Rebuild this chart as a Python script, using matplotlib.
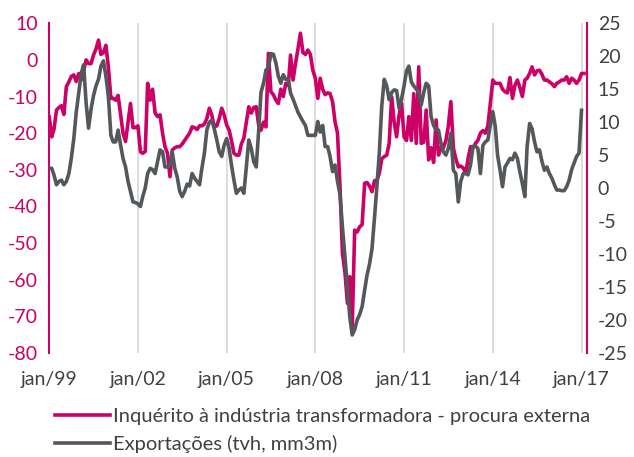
import numpy as np
import pandas as pd
import matplotlib
matplotlib.use('Agg')
import matplotlib.pyplot as plt

plt.rcParams['font.family'] = ['Lato', 'DejaVu Sans']
plt.rcParams['axes.unicode_minus'] = False

# Inquérito à indústria transformadora - procura externa (left axis), jan/99 .. fev/17
inquerito = [
    -15.5, -21, -19, -13.7, -13, -12.5, -14.9, -7.3, -6, -4.5,
    -4.1, -5.9, -3.7, -5.5, -3, 0, -1, -1, 1.3, 3,
    5.4, 1.5, 2, 4, -2, -10.5, -10.5, -11, -9.7, -14.9,
    -20, -22.3, -17, -11.9, -18.5, -18.5, -18, -25.1, -25.5, -25,
    -6.4, -11, -8, -14.5, -15.5, -15, -20, -23.7, -25.5, -31.9,
    -24.6, -24, -23.7, -23.7, -23, -22, -21, -20, -18.3, -18.5,
    -19, -18, -18, -17.5, -16, -13.2, -15, -18.3, -18, -16,
    -13.2, -15, -17.8, -19.2, -22, -25.5, -26, -26, -23, -21.4,
    -17, -12.8, -14.5, -13, -12.8, -18, -19.2, -17, -18.3, 1.8,
    -8.7, -9.5, -11, -11.9, -8, -10, -6.4, -7, 1.3, -5.5,
    -1, 3, 7.3, 2, 1.5, 2.7, 1.5, -2.8, -5, -10.5,
    -5, -8, -9.5, -9, -9.2, -11.4, -17, -20, -34.7, -52.8,
    -58, -66.5, -59.2, -72.9, -46.5, -47, -45.6, -45, -33.7, -33.5,
    -34.5, -36, -33, -32.8, -31, -27, -26.4, -26, -22.8, -10.1,
    -17, -21, -15, -11.9, -21, -22, -15.5, -22, -9.2, -22.8,
    -1.9, -22.8, -22.5, -13.7, -27.3, -24, -28, -16.4, -26, -24,
    -24, -22, -18, -11.4, -24, -27, -29.2, -29, -29.5, -31,
    -27, -23.7, -24, -22.8, -22, -20, -19.3, -20, -18, -12,
    -5.5, -6.4, -6.4, -6.4, -8, -8.7, -9, -4.8, -10.5, -7,
    -5.5, -7.5, -10, -5.5, -5, -3.7, -1.9, -4.1, -3, -2.8,
    -4, -5.5, -5.5, -6, -6.5, -7.3, -6.4, -6, -5.5, -5.5,
    -4.6, -6.4, -5, -5.5, -6.4, -5.5, -3.7, -3.7,
]

# Exportações (tvh, mm3m) (right axis), jan/99 .. jan/17
exportacoes = [
    3.0, 3.0, 2.0, 0.5, 1.0, 1.2, 0.5, 1.0, 2.2, 4.5,
    7.5, 11.5, 14.5, 17.4, 18.7, 12.9, 9.1, 12, 14, 15.5,
    16.5, 18.5, 19.3, 17, 13.9, 8, 7.0, 7.0, 8.8, 6.5,
    4.5, 3.2, 1, -0.5, -2.1, -2.2, -2.4, -2.8, -1.3, 0,
    2.2, 3.0, 2.8, 2.2, 4, 5.8, 5.5, 3.2, 3.2, 3.5,
    5.5, 3.0, 1.7, -0.5, -1.3, -0.5, 0.6, 0.3, 2.2, 1.5,
    1.0, 0.5, 3.0, 5.3, 8.8, 10.0, 10.3, 9, 7.3, 5.5,
    4.8, 6.5, 7.5, 6, 3.5, 1.2, -0.8, -0.3, 0, -0.8,
    3.2, 7.3, 6, 4, 3.2, 8.8, 14.5, 15.9, 17.9, 18.2,
    20.4, 20.3, 19, 17.0, 15.9, 17.2, 16.5, 16.5, 14.4, 13.5,
    12.5, 11.5, 10.8, 10.1, 9.5, 8.0, 8.0, 8.0, 8.0, 10.1,
    8.5, 9.5, 6.3, 6.3, 4.8, 2.5, 3.5, 1, -1, -5.9,
    -10.5, -15, -19.5, -22.3, -21.5, -20, -19.2, -18, -15.5, -13.2,
    -11.5, -9.2, -4.5, 0.5, 5.3, 12.5, 16.5, 15.5, 13.4, 14.5,
    14.9, 14.8, 12.1, 13.5, 15.5, 17.8, 18.5, 16.1, 15.5, 15,
    14.6, 12.6, 14.5, 15.9, 15.5, 10.8, 9.5, 8.8, 8.8, 6.8,
    5.5, 5.0, 6.0, 8.3, 2.7, 2.2, -2.1, 1.0, 2.2, 2.2,
    2.0, 3.5, 6.3, 6.4, 6.0, 2.2, 6.5, 7.0, 7.3, 9.5,
    11.6, 9.3, 5, 2.7, 0.2, 3.2, 3.8, 4.5, 4.3, 5.3,
    4.5, 2.5, 0.7, -1.3, 6.3, 9.8, 9, 7, 5.5, 5.8,
    4, 2.7, 3.2, 2.2, 1.5, 0.5, -0.3, -0.3, -0.4, -0.4,
    0.2, 1.2, 2.8, 3.8, 4.8, 5.3, 11.8,
]

x_ticks = ['1999-01-01', '2002-01-01', '2005-01-01', '2008-01-01',
           '2011-01-01', '2014-01-01', '2017-01-01']
x_labels = ['jan/99', 'jan/02', 'jan/05', 'jan/08', 'jan/11', 'jan/14', 'jan/17']
left_ticks = [10, 0, -10, -20, -30, -40, -50, -60, -70, -80]
right_ticks = [25, 20, 15, 10, 5, 0, -5, -10, -15, -20, -25]

magenta = '#CC0066'
grey = '#54585A'
text_grey = '#404040'

d1 = pd.date_range('1999-01-01', periods=len(inquerito), freq='MS')
d2 = pd.date_range('1999-01-01', periods=len(exportacoes), freq='MS')

fig = plt.figure(figsize=(6.34, 4.57), dpi=100)
ax = fig.add_axes([0.0776, 0.228, 0.8478, 0.721])
ax2 = ax.twinx()

l1, = ax.plot(d1, inquerito, color=magenta, lw=2.6, solid_joinstyle='round')
l2, = ax2.plot(d2, exportacoes, color=grey, lw=2.6, solid_joinstyle='round')

ax.set_ylim(-80, 10)
ax2.set_ylim(-25, 25)
ax.set_xlim(pd.Timestamp('1999-01-01'), pd.Timestamp('2017-03-06'))
ax.set_yticks(left_ticks)
ax2.set_yticks(right_ticks)
ax.set_xticks(pd.to_datetime(x_ticks))
ax.set_xticklabels(x_labels)

ax.grid(axis='x', color='#D9D9D9', lw=1.3)
ax.grid(axis='y', visible=False)
ax.set_axisbelow(True)

for a in (ax, ax2):
    for s in ('top', 'bottom', 'left', 'right'):
        a.spines[s].set_visible(False)
ax.spines['left'].set_visible(True)
ax.spines['left'].set_color(magenta)
ax.spines['left'].set_linewidth(1.5)
ax2.spines['right'].set_visible(True)
ax2.spines['right'].set_color(magenta)
ax2.spines['right'].set_linewidth(1.5)

ax.tick_params(axis='y', length=0, labelsize=14, labelcolor=magenta, pad=8)
ax.tick_params(axis='x', length=0, labelsize=14, labelcolor=text_grey, pad=13)
ax2.tick_params(axis='y', length=0, labelsize=14, labelcolor=text_grey, pad=8)

fig.legend([l1, l2], ['Inquérito à indústria transformadora - procura externa',
                      'Exportações (tvh, mm3m)'],
           loc='lower left', bbox_to_anchor=(0.068, -0.018), frameon=False,
           fontsize=14.5, handlelength=2.7, handletextpad=0.15, labelspacing=0.5,
           borderpad=0.1, labelcolor=text_grey)

fig.savefig('out.png', dpi=100)
